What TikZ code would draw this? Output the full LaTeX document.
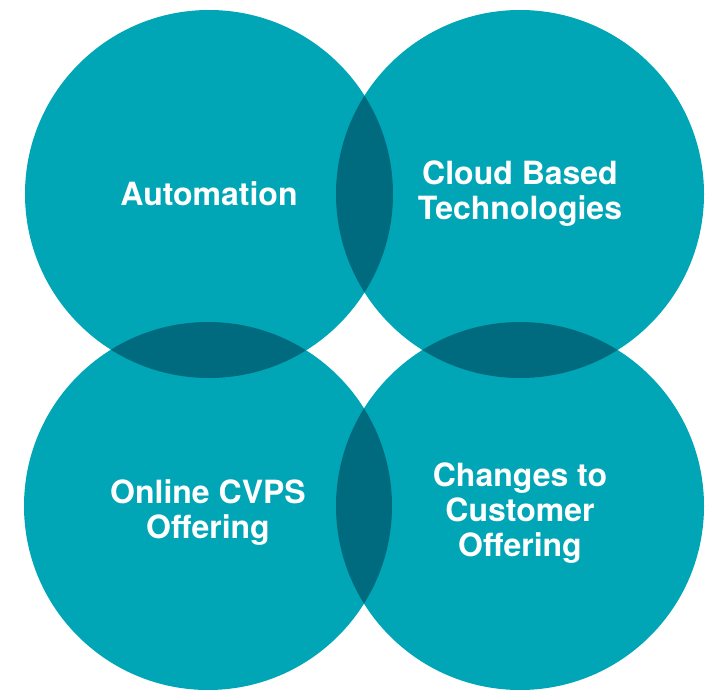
\documentclass[tikz,border=0pt]{standalone}
\usepackage{fontspec}
\setmainfont{TeX Gyre Heros}
\usepackage{tikz}

\definecolor{ringteal}{HTML}{00A6B6}
\definecolor{ringdark}{HTML}{006B7E}

\begin{document}
\begin{tikzpicture}[x=1pt, y=-1pt,
  ring/.style={circle, draw=none, fill=ringteal, minimum size=368pt, inner sep=0pt},
  ringtext/.style={draw=none, text=white, align=center, font=\fontsize{32}{35}\selectfont\bfseries}]
% Page size of the picture, same as the image (0,0 is the top-left corner)
\useasboundingbox (0,0) rectangle (711,689);

% The four circles
\node[ring] (auto) at (209,194) {};
\node[ring] (cloud) at (520,194) {};
\node[ring] (online) at (208,506) {};
\node[ring] (changes) at (520,506) {};

% Darker parts where two circles overlap
% "clip" keeps only the part that lies inside the first circle
\begin{scope}
\clip (auto.center) circle (184pt);
\fill[ringdark] (cloud.center) circle (184pt);
\fill[ringdark] (online.center) circle (184pt);
\end{scope}
\begin{scope}
\clip (changes.center) circle (184pt);
\fill[ringdark] (cloud.center) circle (184pt);
\fill[ringdark] (online.center) circle (184pt);
\end{scope}

% Texts in the middle of the circles (the lower ones sit a bit lower)
\node[ringtext] (autotext) at (auto.center) {Automation};
\node[ringtext] (cloudtext) at (cloud.center) {Cloud Based\\Technologies};
\node[ringtext] (onlinetext) at ([yshift=-7pt]online.center) {Online CVPS\\Offering};
\node[ringtext] (changestext) at ([yshift=-7pt]changes.center) {Changes to\\Customer\\Offering};
\end{tikzpicture}
\end{document}
